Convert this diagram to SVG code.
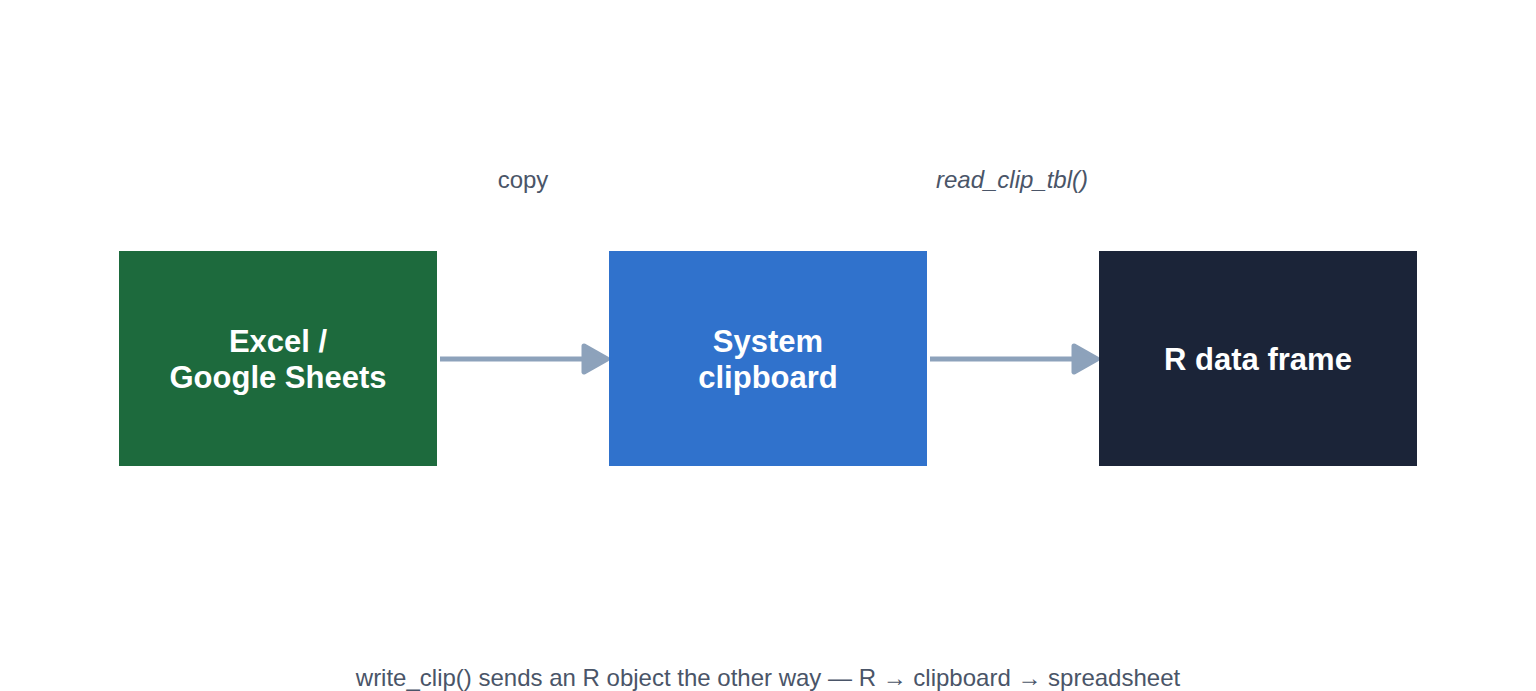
<svg xmlns="http://www.w3.org/2000/svg" width="1536" height="691" viewBox="0 0 1536 691">
<style>
.node-label{font-family:"Liberation Sans",Arial,sans-serif;font-size:31px;font-weight:bold;fill:#ffffff;text-anchor:middle}
.edge-label{font-family:"Liberation Sans",Arial,sans-serif;font-size:24px;fill:#4a5568;text-anchor:middle}
.edge{stroke:#8da2bb;stroke-width:5;fill:none}
.head{fill:#8da2bb;stroke:#8da2bb;stroke-width:5;stroke-linejoin:round}
</style>
<rect width="1536" height="691" fill="#ffffff"/>
<g id="connectors">
<line class="edge" x1="440" y1="359" x2="585" y2="359"/>
<polygon class="head" points="584,346 607,359 584,372"/>
<line class="edge" x1="930" y1="359" x2="1075" y2="359"/>
<polygon class="head" points="1074,346 1097,359 1074,372"/>
<text class="edge-label" x="523" y="188">copy</text>
<text class="edge-label" x="1012" y="188" font-style="italic">read_clip_tbl()</text>
</g>
<g id="node-excel">
<rect x="119" y="251" width="318" height="215" fill="#1d6a3d"/>
<text class="node-label" x="278" y="352">Excel /</text>
<text class="node-label" x="278" y="388">Google Sheets</text>
</g>
<g id="node-clipboard">
<rect x="609" y="251" width="318" height="215" fill="#3072cc"/>
<text class="node-label" x="768" y="352">System</text>
<text class="node-label" x="768" y="388">clipboard</text>
</g>
<g id="node-r">
<rect x="1099" y="251" width="318" height="215" fill="#1b2438"/>
<text class="node-label" x="1258" y="370">R data frame</text>
</g>
<text class="edge-label" x="768" y="686">write_clip() sends an R object the other way — R → clipboard → spreadsheet</text>
</svg>
